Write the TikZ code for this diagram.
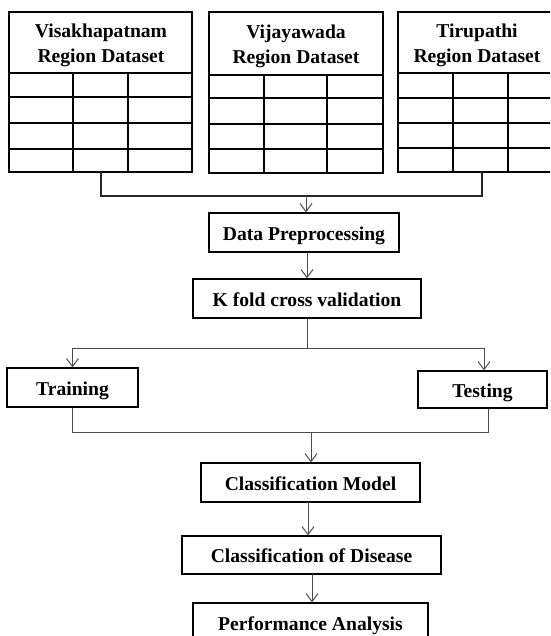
\documentclass[tikz,border=0pt]{standalone}
\usepackage{fontspec}
\setmainfont{Liberation Serif}
\usetikzlibrary{arrows.meta}
\begin{document}
\begin{tikzpicture}[x=1pt,y=-1pt,
  txt/.style={font=\fontsize{19.6}{25}\selectfont\bfseries,inner sep=0pt,align=center},
  box/.style={txt,draw=black,line width=1.3pt,text height=15pt,text depth=0pt},
  tbl/.style={draw=black,line width=1.3pt},
  conn/.style={draw=black!70,line width=1pt},
  darkconn/.style={draw=black!85,line width=1.2pt},
  arr/.style={conn,-{Straight Barb[length=8pt,width=12pt]}}]
\useasboundingbox (0,0) rectangle (550,636);
\clip (0,0) rectangle (550,636);

% Dataset tables
\draw[tbl] (9,12) rectangle (192,172);
\draw[tbl] (9,73) -- (192,73) (9,97) -- (192,97) (9,123) -- (192,123) (9,149) -- (192,149)
           (73,73) -- (73,172) (128,73) -- (128,172);
\draw[tbl] (209,12) rectangle (383,173);
\draw[tbl] (209,75) -- (383,75) (209,98) -- (383,98) (209,124) -- (383,124) (209,149) -- (383,149)
           (264,75) -- (264,173) (327,75) -- (327,173);
\draw[tbl] (398,12) rectangle (556,172);
\draw[tbl] (398,73) -- (556,73) (398,98) -- (556,98) (398,123) -- (556,123) (398,148) -- (556,148)
           (453,73) -- (453,172) (508,73) -- (508,172);

% Dataset headers
\node[txt] (vis) at (101,45.5) {Visakhapatnam\\Region Dataset};
\node[txt] (vij) at (296,46.5) {Vijayawada\\Region Dataset};
\node[txt] (tir) at (477,45.5) {Tirupathi\\Region Dataset};

\coordinate (visb) at (101,172);
\coordinate (tirb) at (482,172);

% Process boxes
\node[box,minimum width=190pt,minimum height=39pt] (pre) at (304,232.5) {Data Preprocessing};
\node[box,minimum width=228pt,minimum height=39pt] (kf) at (307,298.5) {K fold cross validation};
\node[box,minimum width=131pt,minimum height=39pt] (train) at (72.5,387.5) {Training};
\node[box,minimum width=129pt,minimum height=37pt] (test) at (482.5,389.5) {Testing};
\node[box,minimum width=219pt,minimum height=39pt] (cm) at (310.5,482.5) {Classification Model};
\node[box,minimum width=259pt,minimum height=38pt] (cd) at (311.5,555) {Classification of Disease};
\node[box,minimum width=235pt,minimum height=39pt] (pa) at (310.5,622.5) {Performance Analysis};

% Connectors
\coordinate (j1) at (306,196);
\draw[darkconn] (visb) |- (j1) -| (tirb);
\draw[arr] (j1) -- (j1 |- pre.north);

\draw[arr] (307,252) coordinate (p1) -- (p1 |- kf.north);

\coordinate (j2) at (307,348);
\draw[conn] (j2 |- kf.south) -- (j2);
\draw[arr] (j2) -| (train.north);
\draw[arr] (j2) -| ([xshift=1.5pt]test.north);

\coordinate (j3) at (311,432);
\draw[conn] (train.south) |- (j3);
\draw[conn] ([xshift=5.5pt]test.south) |- (j3);
\draw[arr] (j3) -- (j3 |- cm.north);

\draw[arr] (308,502) coordinate (p2) -- (p2 |- cd.north);
\draw[arr] (312,574) coordinate (p3) -- (p3 |- pa.north);
\end{tikzpicture}
\end{document}
